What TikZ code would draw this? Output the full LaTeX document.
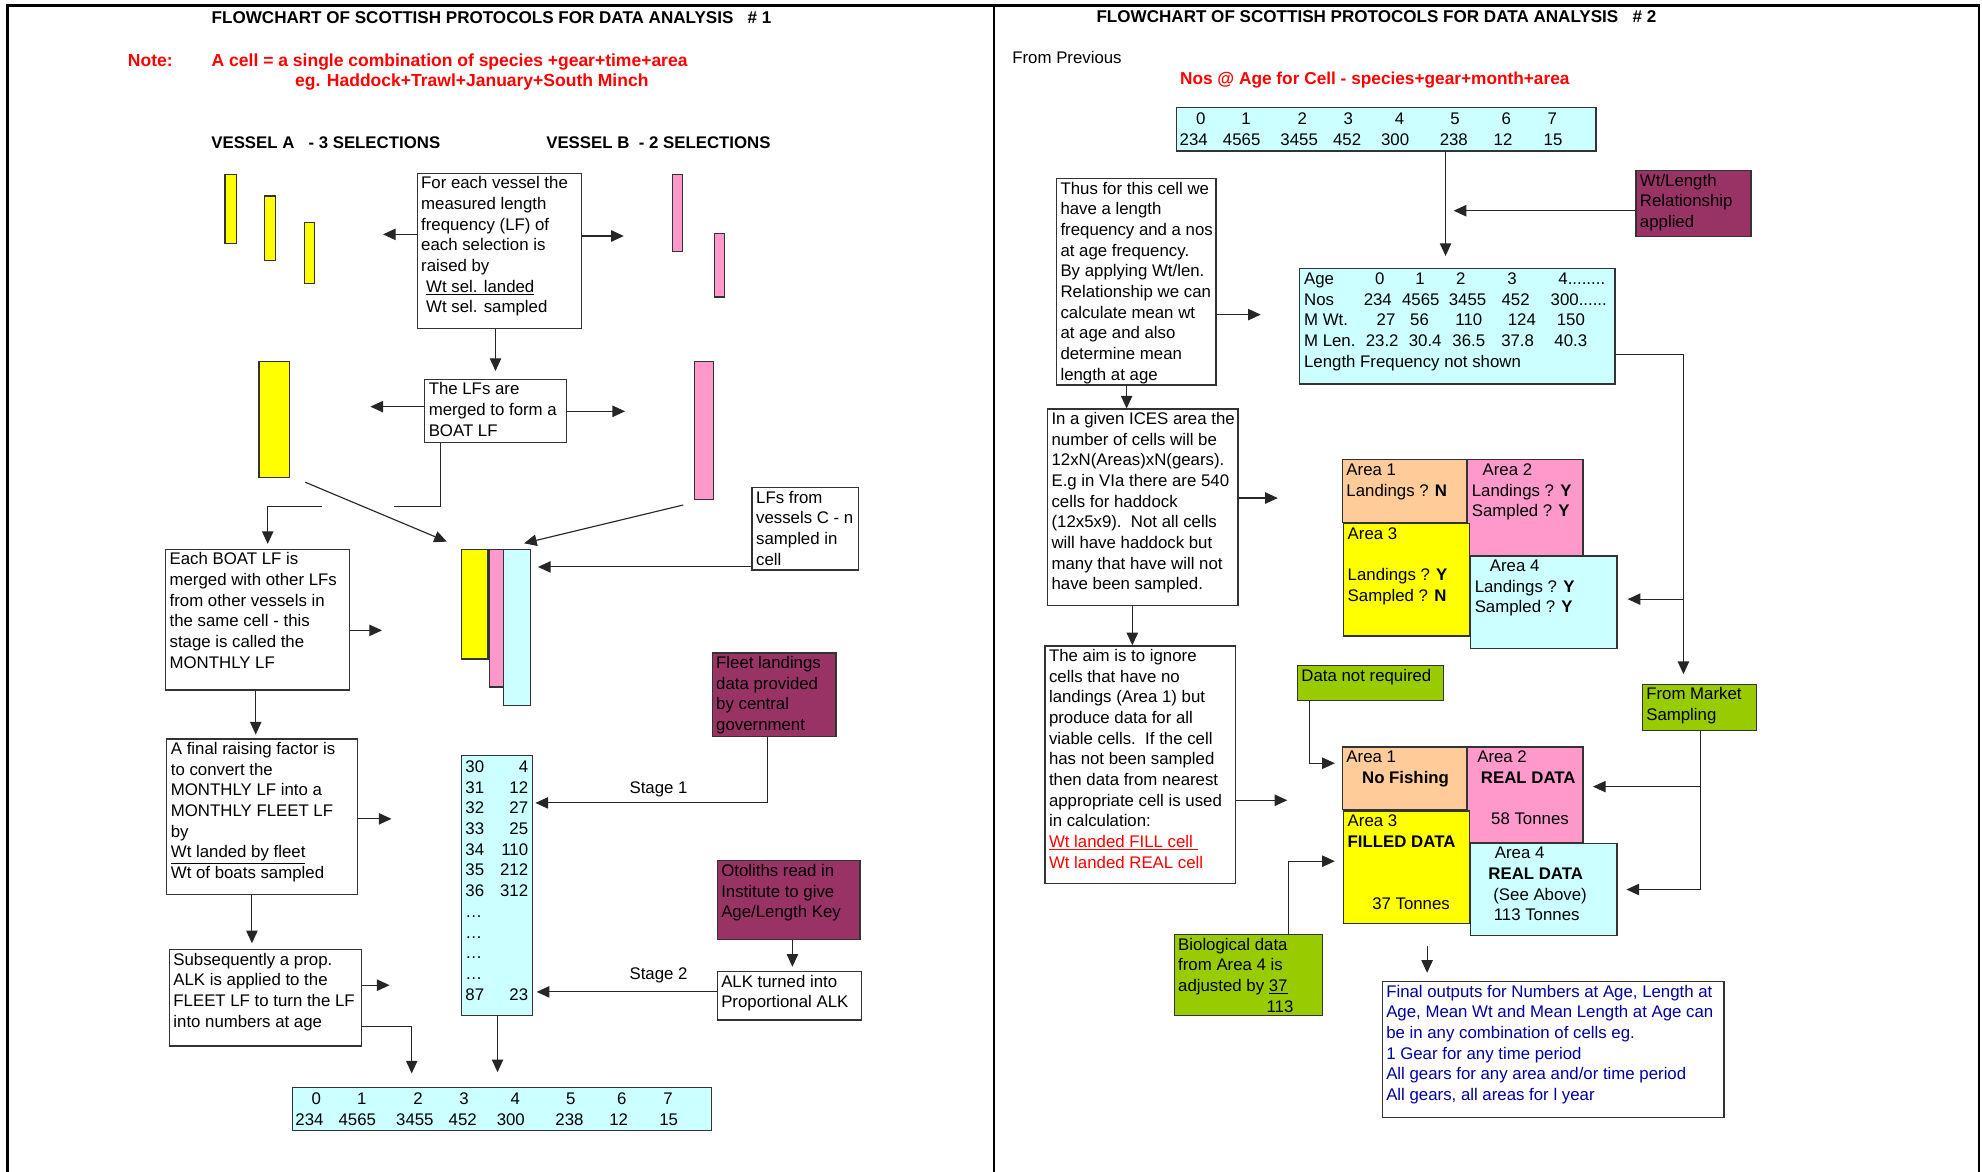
\documentclass[tikz,border=0pt]{standalone}
\usepackage{fontspec}
\setmainfont{Liberation Sans}
\usetikzlibrary{arrows.meta}

\definecolor{lfyellow}{RGB}{255,255,0}
\definecolor{lfpink}{RGB}{255,153,204}
\definecolor{lfcyan}{RGB}{204,255,255}
\definecolor{lforange}{RGB}{255,204,153}
\definecolor{lfmaroon}{RGB}{153,51,102}
\definecolor{lfgreen}{RGB}{153,204,0}
\definecolor{lfred}{RGB}{255,0,0}
\definecolor{lfblue}{RGB}{0,0,160}

\newcommand{\lffont}{\fontsize{13.3}{16.35}\selectfont}
% a filled rectangle given by its corners
\newcommand{\lfbar}[6][white]{%
  \node[lfbox, fill=#1, minimum width={(#5-(#3))*1pt}, minimum height={(#6-(#4))*1pt}]
    (#2) at ({((#3)+(#5))/2},{((#4)+(#6))/2}) {};}
% a rectangle with its text set from the top left corner
\newcommand{\flowbox}[7][white]{%
  \lfbar[#1]{#2}{#3}{#4}{#5}{#6}
  \node[boxtext] (#2-t) at ([shift={(3.5,1.2)}]#2.north west) {\strut#7};}
% ages and numbers
\newcommand{\agetable}[3]{%
  \lfbar[lfcyan]{#1}{#2}{#3}{#2+331.7}{#3+34.2}
  \foreach \n/\dx [count=\c] in {0/19,1/54.9,2/99.4,3/135.8,4/176.3,5/220.2,6/260.7,7/297.2}
    \node[cell] (#1-a\c) at (#2+\dx,#3+13.3) {\n};
  \foreach \n/\dx [count=\c] in {234/13.5,4565/51.4,3455/96.9,452/134.8,300/172.8,238/219.2,12/258.2,15/297.7}
    \node[cell] (#1-b\c) at (#2+\dx,#3+29.6) {\n};}

\begin{document}
\begin{tikzpicture}[x=1pt, y=-1pt, font=\lffont,
  lfbox/.style={draw=black!80, line width=1pt, inner sep=0pt},
  boxtext/.style={anchor=north west, inner sep=0pt, align=left},
  lbl/.style={anchor=base west, inner sep=0pt},
  cell/.style={anchor=base, inner sep=0pt},
  arr/.style={draw=black!85, line width=0.9pt, -{Triangle[length=10pt, width=9pt]}},
  wire/.style={draw=black!85, line width=0.9pt}]
  \useasboundingbox (0,0) rectangle (1568,927);

  % page frames
  \draw[line width=2pt] (6,927) -- (6,4.5) -- (1565.5,4.5) -- (1565.5,927);
  \draw[line width=1.6pt] (786.4,4.5) -- (786.4,927);

  %% sheet 1
  \node[lbl, font=\fontsize{13.5}{16}\selectfont\bfseries] (title1) at (167.3,18.5) {FLOWCHART OF SCOTTISH PROTOCOLS FOR DATA ANALYSIS\ \ \ \# 1};
  \node[lbl, font=\fontsize{13.85}{16}\selectfont\bfseries, text=lfred] (note) at (101,52.3) {Note:};
  \node[lbl, font=\fontsize{13.85}{16}\selectfont\bfseries, text=lfred] (noteA) at (167.3,52.3) {A cell = a single combination of species +gear+time+area};
  \node[lbl, font=\fontsize{13.85}{16}\selectfont\bfseries, text=lfred] (noteB) at (233.3,68.8) {eg. Haddock+Trawl+January+South Minch};
  \node[lbl, font=\lffont\bfseries] (vesA) at (167,117.8) {VESSEL A\ \ \ - 3 SELECTIONS};
  \node[lbl, font=\lffont\bfseries] (vesB) at (432,117.8) {VESSEL B\ \ - 2 SELECTIONS};

  \foreach \nm/\xa/\ya/\xb/\yb in {selA1/178/138/187/192.5, selA2/209/155/218/206, selA3/241/176/249/224}
    {\lfbar[lfyellow]{\nm}{\xa}{\ya}{\xb}{\yb}}
  \foreach \nm/\xa/\ya/\xb/\yb in {selB1/532/138/540/199, selB2/565/185/573/235}
    {\lfbar[lfpink]{\nm}{\xa}{\ya}{\xb}{\yb}}

  \flowbox{vessel}{330}{137}{460}{260}{For each vessel the\\measured length\\frequency (LF) of\\each selection is\\raised by\\\hspace*{4pt}\underline{Wt sel. landed}\\\hspace*{4pt}Wt sel. sampled}
  \flowbox{boat}{336}{300}{448}{350}{The LFs are\\merged to form a\\BOAT LF}
  \lfbar[lfyellow]{boatA}{205}{286}{229}{378}
  \lfbar[lfpink]{boatB}{549.5}{286}{564.5}{395}
  \flowbox{lfsC}{595}{385.6}{679}{451}{LFs from\\vessels C - n\\sampled in\\cell}

  \lfbar[lfyellow]{stackA}{365}{434.5}{386}{521.4}
  \lfbar[lfpink]{stackB}{387}{434.5}{398.6}{543.4}
  \lfbar[lfcyan]{stackC}{398.6}{434.5}{419.6}{558.4}

  \flowbox{monthly}{131}{434.5}{276.7}{545.9}{Each BOAT LF is\\merged with other LFs\\from other vessels in\\the same cell - this\\stage is called the\\MONTHLY LF}
  \flowbox{raise}{132}{584.6}{282.7}{707.9}{A final raising factor is\\to convert the\\MONTHLY LF into a\\MONTHLY FLEET LF\\by\\\underline{Wt landed by fleet}\\Wt of boats sampled}
  \flowbox{alk}{134}{751.2}{285.7}{827.6}{Subsequently a prop.\\ALK is applied to the\\FLEET LF to turn the LF\\into numbers at age}

  \lfbar[lfcyan]{lenf}{365}{597.9}{421}{803.2}
  \foreach \len/\num [count=\i from 0] in {30/4, 31/12, 32/27, 33/25, 34/110, 35/212, 36/312, {\ldots}/{}, {\ldots}/{}, {\ldots}/{}, {\ldots}/{}, 87/23} {
    \node[lbl] (len\i) at (368,611+16.4*\i) {\len};
    \node[anchor=base east, inner sep=0pt] (num\i) at (418,611+16.4*\i) {\num};
  }

  \flowbox[lfmaroon]{fleet}{563.4}{516.5}{661.3}{582.5}{Fleet landings\\data provided\\by central\\government}
  \flowbox[lfmaroon]{otol}{567.4}{681}{680.3}{743.1}{Otoliths read in\\Institute to give\\Age/Length Key}
  \flowbox{alkp}{567.4}{768.6}{681.8}{807}{ALK turned into\\Proportional ALK}
  \node[cell] (stage1) at (521,627.5) {Stage 1};
  \node[cell] (stage2) at (521,775.2) {Stage 2};

  \agetable{agesL}{231.3}{860.4}

  \coordinate (vA) at (303,185.4);
  \coordinate (vB) at (493.5,186.7);
  \coordinate (bA) at (293,321.7);
  \coordinate (bB) at (494.5,325.4);
  \coordinate (bk1) at (348.7,401);
  \coordinate (bk2) at (311.7,401);
  \coordinate (bk3) at (254.7,401);
  \coordinate (bk4) at (211.8,401);
  \coordinate (mIn) at (211.8,430.3);
  \coordinate (lfIn) at (425.6,448.5);
  \coordinate (mOut) at (302.2,498.7);
  \coordinate (rIn) at (202.3,581.1);
  \coordinate (rOut) at (309.7,647.8);
  \coordinate (aIn) at (199.3,746.2);
  \coordinate (aOut) at (308.2,779.4);
  \coordinate (aElb) at (325.7,812.2);
  \coordinate (aDn) at (325.7,849.2);
  \coordinate (lDn) at (393.6,848.2);
  \coordinate (s1e) at (607.4,635.2);
  \coordinate (s1) at (423.6,635.2);
  \coordinate (oDn) at (626.9,764.8);
  \coordinate (s2) at (424.6,784.7);

  \draw[arr] (vessel.west |- vA) -- (vA);
  \draw[arr] (vessel.east |- vB) -- (vB);
  \draw[arr] (boat.north |- vessel.south) -- ([yshift=6pt]boat.north);
  \draw[arr] (boat.west |- bA) -- (bA);
  \draw[arr] (boat.east |- bB) -- (bB);
  \draw[wire] (boat.south -| bk1) -- (bk1) -- (bk2);
  \draw[arr] (bk3) -- (bk4) -- (mIn);
  \draw[arr] ([shift={(12,3)}]boatA.south east) -- ([shift={(-11,-5.5)}]stackA.north west);
  \draw[arr] ([shift={(-16.5,4)}]boatB.south) -- ([shift={(5.5,-4.2)}]stackC.north);
  \draw[arr] (lfsC.west |- lfIn) -- (lfIn);
  \draw[arr] (monthly.east |- mOut) -- (mOut);
  \draw[arr] (monthly.south -| rIn) -- (rIn);
  \draw[arr] (raise.east |- rOut) -- (rOut);
  \draw[arr] (raise.south -| aIn) -- (aIn);
  \draw[arr] (alk.east |- aOut) -- (aOut);
  \draw[arr] (alk.east |- aElb) -- (aElb) -- (aDn);
  \draw[arr] (lenf.south -| lDn) -- (lDn);
  \draw[arr] (fleet.south -| s1e) -- (s1e) -- (s1);
  \draw[arr] (otol.south -| oDn) -- (oDn);
  \draw[arr] (alkp.west |- s2) -- (s2);

  %% sheet 2
  \node[lbl, font=\fontsize{13.5}{16}\selectfont\bfseries] (title2) at (867.3,18) {FLOWCHART OF SCOTTISH PROTOCOLS FOR DATA ANALYSIS\ \ \ \# 2};
  \node[lbl] (prev) at (800.7,50.1) {From Previous};
  \node[lbl, font=\fontsize{13.65}{16}\selectfont\bfseries, text=lfred] (nosAge) at (933.4,67) {Nos @ Age for Cell - species+gear+month+area};

  \agetable{agesR}{930.9}{85.2}
  \flowbox[lfmaroon]{wtlen}{1294.2}{135}{1385.3}{187}{Wt/Length\\Relationship\\applied}
  \flowbox{thus}{835.8}{141.3}{961.9}{304.6}{Thus for this cell we\\have a length\\frequency and a nos\\at age frequency.\\By applying Wt/len.\\Relationship we can\\calculate mean wt\\at age and also\\determine mean\\length at age}

  \lfbar[lfcyan]{wtbox}{1028}{212.3}{1277.7}{303.8}
  \foreach \lab [count=\r from 0] in {Age, Nos, M Wt., M Len., Length Frequency not shown}
    \node[lbl] (wt-l\r) at (1031.5,225+16.4*\r) {\lab};
  \foreach \v/\x [count=\c] in {0/1091.5, 1/1123.5, 2/1155.6, 3/1196.1}
    \node[cell] (wt-age\c) at (\x,225) {\v};
  \node[lbl] (wt-age5) at (1232.7,225) {4........};
  \foreach \v/\x [count=\c] in {234/1090, 4565/1124, 3455/1161, 452/1199}
    \node[cell] (wt-nos\c) at (\x,241.4) {\v};
  \node[lbl] (wt-nos5) at (1226.6,241.4) {300......};
  \foreach \v/\x [count=\c] in {27/1096.5, 56/1123, 110/1162, 124/1204, 150/1242.7}
    \node[cell] (wt-mw\c) at (\x,257.8) {\v};
  \foreach \v/\x [count=\c] in {23.2/1093.5, 30.4/1127.5, 36.5/1162, 37.8/1200.6, 40.3/1242.7}
    \node[cell] (wt-ml\c) at (\x,274.2) {\v};

  \flowbox{ices}{828.7}{323.6}{979.4}{479.2}{In a given ICES area the\\number of cells will be\\12xN(Areas)xN(gears).\\E.g in VIa there are 540\\cells for haddock\\(12x5x9).\ \ Not all cells\\will have haddock but\\many that have will not\\have been sampled.}
  \flowbox{aim}{826.7}{511}{977.4}{699.1}{The aim is to ignore\\cells that have no\\landings (Area 1) but\\produce data for all\\viable cells.\ \ If the cell\\has not been sampled\\then data from nearest\\appropriate cell is used\\in calculation:\\\textcolor{lfred}{\underline{Wt landed FILL cell\ }}\\\textcolor{lfred}{Wt landed REAL cell}}

  \flowbox[lforange]{a1}{1062}{363.7}{1160.6}{413.2}{Area 1\\Landings ? \textbf{N}}
  \flowbox[lfpink]{a2}{1161.2}{363.7}{1252.4}{439.4}{\hspace*{8.5pt}Area 2\\Landings ? \textbf{Y}\\Sampled ? \textbf{Y}}
  \flowbox[lfyellow]{a3}{1063}{414.3}{1162.4}{503.2}{Area 3\\\strut\\Landings ? \textbf{Y}\\Sampled ? \textbf{N}}
  \flowbox[lfcyan]{a4}{1163.5}{439.9}{1279.2}{512.9}{\hspace*{12pt}Area 4\\Landings ? \textbf{Y}\\Sampled ? \textbf{Y}}

  \flowbox[lfgreen]{dnr}{1026.4}{526.7}{1142}{554.2}{Data not required}
  \flowbox[lfgreen]{market}{1299.2}{541.3}{1389.8}{578}{From Market\\Sampling}

  \flowbox[lforange]{b1}{1062}{590.9}{1160.6}{640.4}{Area 1\\\hspace*{12.4pt}\textbf{No Fishing}}
  \flowbox[lfpink]{b2}{1161.2}{590.9}{1252.4}{666.6}{\hspace*{4.3pt}Area 2\\\hspace*{7.2pt}\textbf{REAL DATA}\\\strut\\\hspace*{15.3pt}58 Tonnes}
  \flowbox[lfyellow]{b3}{1063}{641.5}{1162.4}{730.4}{Area 3\\\textbf{FILLED DATA}\\\strut\\\strut\\\hspace*{19.4pt}37 Tonnes}
  \flowbox[lfcyan]{b4}{1163.5}{667.1}{1279.2}{740.1}{\hspace*{15.9pt}Area 4\\\hspace*{10.8pt}\textbf{REAL DATA}\\\hspace*{14.7pt}(See Above)\\\hspace*{15.1pt}113 Tonnes}

  \flowbox[lfgreen]{bio}{928.9}{739.3}{1046.5}{803.2}{Biological data\\from Area 4 is\\adjusted by \underline{37}\\\hspace*{69.9pt}113}
  \begin{scope}[boxtext/.append style={text=lfblue}]
    \flowbox{final}{1093.5}{776.6}{1363.8}{884.1}{Final outputs for Numbers at Age, Length at\\Age, Mean Wt and Mean Length at Age can\\be in any combination of cells eg.\\1 Gear for any time period\\All gears for any area and/or time period\\All gears, all areas for l year}
  \end{scope}

  \coordinate (tDn) at (1143.6,202.5);
  \coordinate (wIn) at (1150,166.7);
  \coordinate (thOut) at (997.4,248.9);
  \coordinate (icDn1) at (891.3,323);
  \coordinate (mkE) at (1331.8,280.6);
  \coordinate (mkIn) at (1331.8,533.3);
  \coordinate (a4In) at (1287.7,474);
  \coordinate (icOut) at (1010.9,394);
  \coordinate (icDn2) at (895.8,511);
  \coordinate (aimOut) at (1018.4,633.1);
  \coordinate (nrE) at (1036,603.8);
  \coordinate (nrT) at (1056,603.8);
  \coordinate (mkB) at (1345.3,703.7);
  \coordinate (b2In) at (1260.2,622.3);
  \coordinate (b4In) at (1286.7,703.7);
  \coordinate (bioE) at (1019.5,681.3);
  \coordinate (bioT) at (1056,681.3);
  \coordinate (fin0) at (1129,748.7);
  \coordinate (fin1) at (1129,769.6);

  \draw[arr] (agesR.south -| tDn) -- (tDn);
  \draw[arr] (wtlen.west |- wIn) -- (wIn);
  \draw[arr] (thus.east |- thOut) -- (thOut);
  \draw[arr] (thus.south -| icDn1) -- (ices.north -| icDn1);
  \draw[arr] (wtbox.east |- mkE) -- (mkE) -- (mkIn);
  \draw[arr] (mkE |- a4In) -- (a4In);
  \draw[arr] (ices.east |- icOut) -- (icOut);
  \draw[arr] (ices.south -| icDn2) -- (aim.north -| icDn2);
  \draw[arr] (aim.east |- aimOut) -- (aimOut);
  \draw[arr] (dnr.south -| nrE) -- (nrE) -- (nrT);
  \draw[arr] (market.south -| mkB) -- (mkB) -- (b4In);
  \draw[arr] (mkB |- b2In) -- (b2In);
  \draw[arr] (bio.north -| bioE) -- (bioE) -- (bioT);
  \draw[arr] (fin0) -- (fin1);
\end{tikzpicture}
\end{document}
